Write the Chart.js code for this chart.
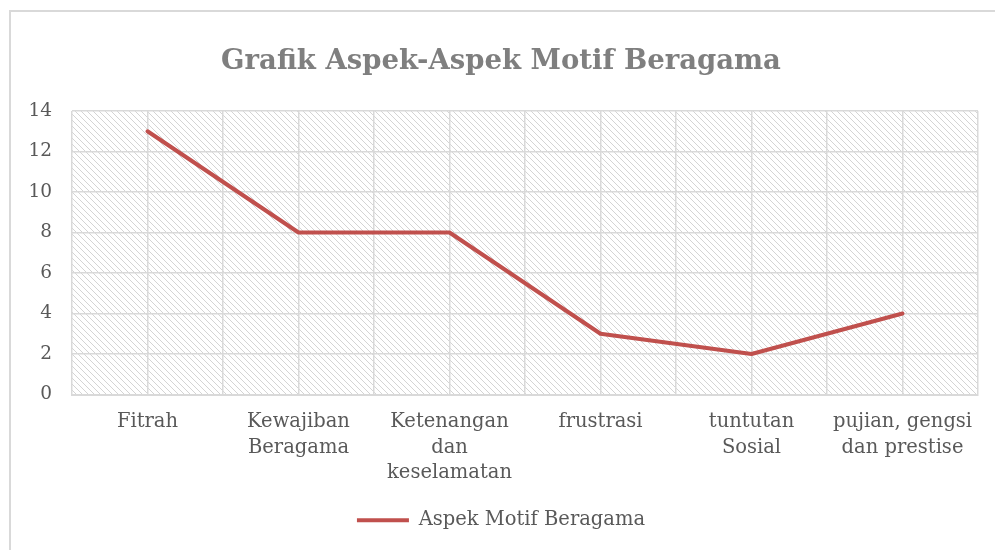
<!DOCTYPE html>
<html>
<head>
<meta charset="utf-8">
<script src="https://cdn.jsdelivr.net/npm/chart.js@4"></script>
<style>
    html, body { margin: 0; padding: 0; background: #fff; overflow: hidden; }
    #wrap { position: relative; width: 995px; height: 550px; }
    canvas { display: block; }
</style>
</head>
<body>
<div id="wrap"><canvas id="chart" width="995" height="550"></canvas></div>
<script>
// Data
const categories = [
    'Fitrah',
    ['Kewajiban', 'Beragama'],
    ['Ketenangan', 'dan', 'keselamatan'],
    'frustrasi',
    ['tuntutan', 'Sosial'],
    ['pujian, gengsi', 'dan prestise']
];
const motifValues = [13, 8, 8, 3, 2, 4];
const seriesLabel = 'Aspek Motif Beragama';
const chartTitle = 'Grafik Aspek-Aspek Motif Beragama';

const FONT = "'DejaVu Serif', serif";
const TEXT = '#595959';
const GRID = '#d9d9d9';

// Diagonal hatch for plot background
function makeHatch() {
    const s = 6;
    const c = document.createElement('canvas');
    c.width = s; c.height = s;
    const g = c.getContext('2d');
    g.fillStyle = '#fff';
    g.fillRect(0, 0, s, s);
    g.strokeStyle = '#d4d4d4';
    g.lineWidth = 1;
    g.beginPath();
    g.moveTo(-1, -1); g.lineTo(s + 1, s + 1);
    g.moveTo(-1, s - 1); g.lineTo(1, s + 1);
    g.moveTo(s - 1, -1); g.lineTo(s + 1, 1);
    g.stroke();
    return g.createPattern(c, 'repeat');
}

const bgPlugin = {
    id: 'bg',
    beforeDraw(chart) {
        const { ctx, chartArea: a } = chart;
        ctx.save();
        // outer frame, only top and left edges are in view
        ctx.fillStyle = '#d9d9d9';
        ctx.fillRect(9, 10, 2, 540);
        ctx.fillRect(9, 10, 986, 2);
        ctx.fillStyle = makeHatch();
        ctx.fillRect(a.left, a.top, a.right - a.left, a.bottom - a.top);
        ctx.restore();
    }
};

const ctx = document.getElementById('chart').getContext('2d');
new Chart(ctx, {
    type: 'line',
    data: {
        labels: categories,
        datasets: [{
            label: seriesLabel,
            data: motifValues,
            borderColor: '#c0504d',
            backgroundColor: '#c0504d',
            borderWidth: 4,
            borderCapStyle: 'round',
            borderJoinStyle: 'round',
            pointRadius: 0,
            pointHoverRadius: 0,
            tension: 0,
            xAxisID: 'x'
        }]
    },
    options: {
        responsive: false,
        animation: false,
        layout: { padding: { left: 24, right: 17, top: 0, bottom: 10 } },
        plugins: {
            title: {
                display: true,
                text: chartTitle,
                color: '#7f7f7f',
                font: { family: FONT, size: 27.5, weight: 'bold' },
                padding: { top: 45, bottom: 33 }
            },
            legend: {
                position: 'bottom',
                labels: {
                    usePointStyle: true,
                    pointStyle: 'line',
                    pointStyleWidth: 52,
                    color: TEXT,
                    font: { family: FONT, size: 19.5 },
                    padding: 8
                }
            },
            tooltip: { enabled: false }
        },
        scales: {
            x: {
                type: 'category',
                offset: true,
                grid: { offset: true, color: GRID, lineWidth: 1.5, drawTicks: false },
                border: { color: GRID, width: 2 },
                ticks: {
                    color: TEXT,
                    font: { family: FONT, size: 19.5, lineHeight: 1.3 },
                    padding: 15,
                    maxRotation: 0,
                    autoSkip: false
                },
                afterFit(scale) { scale.height = 108; }
            },
            x2: {
                type: 'category',
                position: 'bottom',
                offset: true,
                labels: categories,
                grid: { offset: false, color: GRID, lineWidth: 1.5, drawTicks: false },
                border: { display: false },
                ticks: { display: false },
                afterFit(scale) { scale.height = 0; }
            },
            y: {
                min: 0,
                max: 14,
                ticks: {
                    stepSize: 2,
                    color: TEXT,
                    font: { family: FONT, size: 18.5 },
                    padding: 20
                },
                grid: { color: GRID, lineWidth: 1.5, drawTicks: false },
                border: { display: false },
                afterFit(scale) { scale.width = 48; }
            }
        }
    },
    plugins: [bgPlugin]
});
</script>
</body>
</html>
